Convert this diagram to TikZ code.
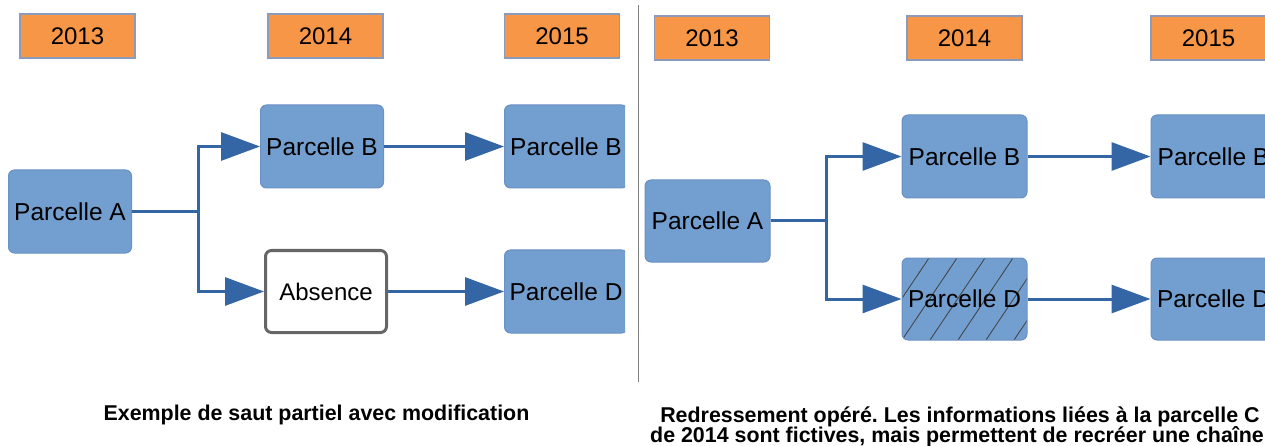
\documentclass[tikz,border=0pt]{standalone}
\usepackage{fontspec}
\setmainfont{Liberation Sans}
\frenchspacing
\usetikzlibrary{arrows.meta}
\definecolor{yearfill}{HTML}{F79646}
\definecolor{yearedge}{HTML}{8C9BB9}
\definecolor{parcelfill}{HTML}{729FCF}
\definecolor{parceledge}{HTML}{6A90C4}
\definecolor{linkblue}{HTML}{3465A4}
\tikzstyle{year} = [rectangle, minimum width=115, minimum height=44, inner sep=0, draw=yearedge, line width=1.5, fill=yearfill, font=\fontsize{24}{28}\selectfont]
\tikzstyle{parcel} = [rectangle, rounded corners=6, minimum width=123, minimum height=83, inner sep=0, draw=parceledge, line width=1, fill=parcelfill, font=\fontsize{24.5}{28}\selectfont]
\tikzstyle{absent} = [rectangle, rounded corners=6, minimum width=121, minimum height=82, inner sep=0, draw=black!60, line width=3, fill=white, font=\fontsize{24}{28}\selectfont]
\tikzstyle{fictive} = [parcel, path picture={\foreach \k in {-2,...,4} \draw [black!75, line width=0.8] ([xshift=\k*28pt] path picture bounding box.south west) -- ++(55pt,82pt);}]
\tikzstyle{link} = [draw=linkblue, line width=3]
\tikzstyle{arrow} = [link, -{Triangle[length=39pt, width=28pt]}]
\tikzstyle{caption} = [anchor=base, inner sep=0, font=\fontsize{21.4}{24}\selectfont\bfseries]

\begin{document}
\begin{tikzpicture}[x=1pt, y=-1pt]
\useasboundingbox (0,0) rectangle (1265,446);
\clip (0,0) rectangle (1265,446);
\node (node0) [year] at (77.5, 36) {2013};
\node (node1) [year] at (325.5, 36) {2014};
\node (node2) [year] at (562, 36) {2015};
\node (node3) [parcel] at (70, 211.5) {Parcelle A};
\node (node4) [parcel] at (322, 146.5) {Parcelle B};
\node (node5) [absent] at (326, 291.5) {Absence};
\begin{scope}
\clip (0,0) rectangle (625,446);
\node (node6) [parcel] at (566, 146.5) {Parcelle B};
\node (node7) [parcel] at (566, 291.5) {Parcelle D};
\end{scope}
\coordinate (c0) at (198, 211.5);
\draw [link] (node3) -- (c0);
\draw [arrow] (c0) |- (node4);
\draw [arrow] (c0) |- (node5);
\draw [arrow] (node4) -- (node6);
\draw [arrow] (node5) -- (node7);
\node (node8) [caption] at (316.5, 420) {Exemple de saut partiel avec modification};
\draw [black!50, line width=1.5] (638.5, 5) -- (638.5, 382);
\node (node9) [year] at (712, 38) {2013};
\node (node10) [year] at (964.5, 38) {2014};
\node (node11) [year] at (1208.5, 38) {2015};
\node (node12) [parcel, minimum width=125, minimum height=82] at (707.5, 221) {Parcelle A};
\node (node13) [parcel, minimum width=125] at (964.5, 156.5) {Parcelle B};
\node (node14) [fictive, minimum width=125, minimum height=82] at (964.5, 299) {Parcelle D};
\node (node15) [parcel, minimum width=125] at (1213.5, 156.5) {Parcelle B};
\node (node16) [parcel, minimum width=125, minimum height=82] at (1213.5, 299) {Parcelle D};
\coordinate (c1) at (826, 221);
\draw [link] (node12) -- (c1);
\draw [arrow] (c1) |- (node13);
\draw [arrow] (c1) |- (node14);
\draw [arrow] (node13) -- (node15);
\draw [arrow] (node14) -- (node16);
\node (node17) [caption] at (960, 422) {Redressement opéré. Les informations liées à la parcelle C};
\node (node18) [caption] at (960, 442) {de 2014 sont fictives, mais permettent de recréer une chaîne.};
\end{tikzpicture}
\end{document}
